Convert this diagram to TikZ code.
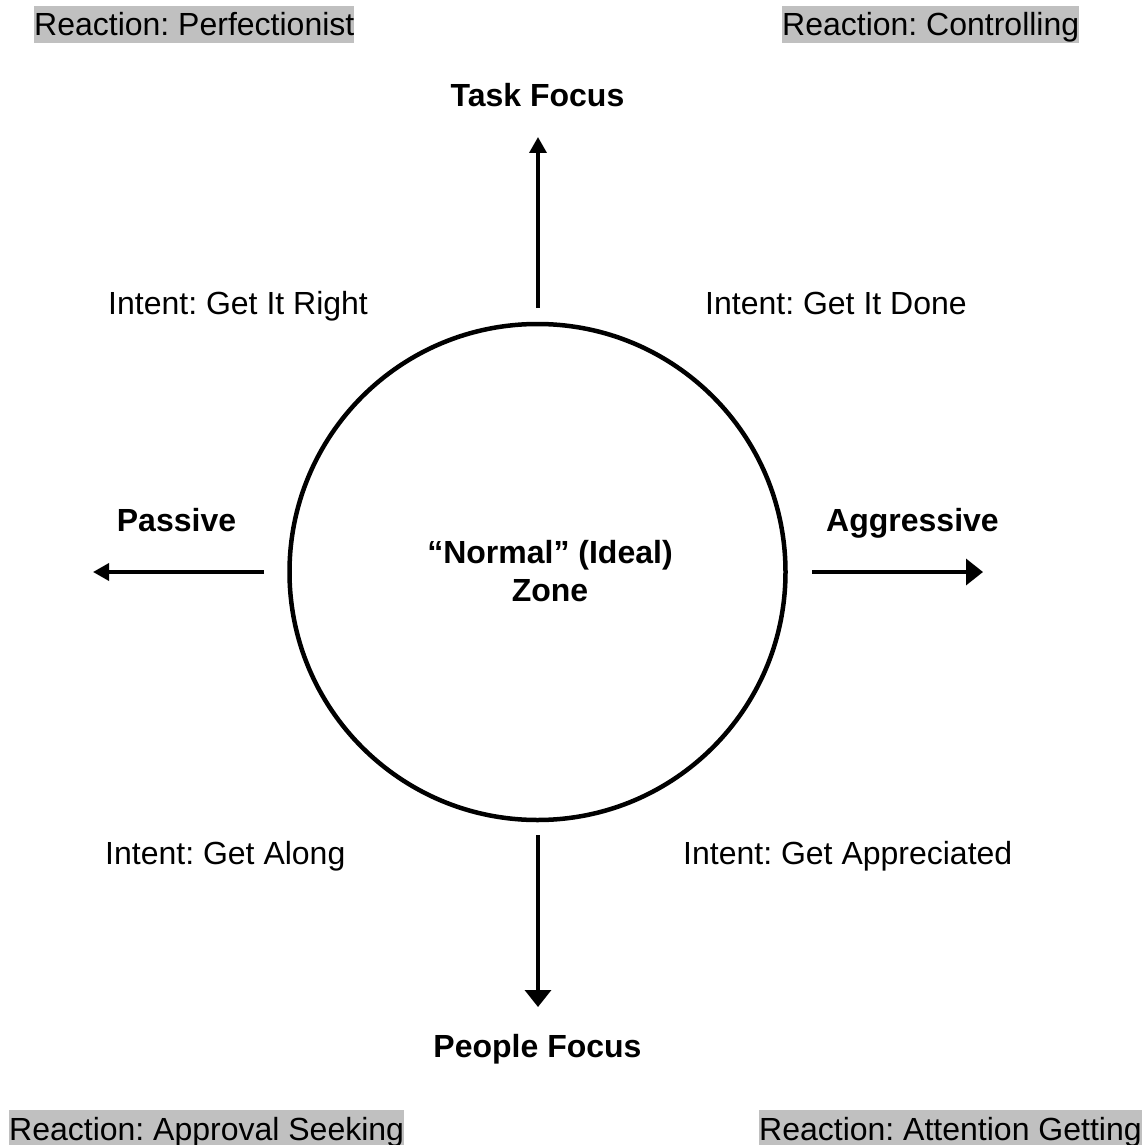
\documentclass[tikz,border=0pt]{standalone}
\usepackage{fontspec}
\setmainfont{Liberation Sans}
\usetikzlibrary{arrows.meta}
\definecolor{silverbg}{HTML}{C0C0C0}
\frenchspacing
\begin{document}
\begin{tikzpicture}[x=1pt,y=-1pt,
  lbl/.style={inner sep=0pt,font=\fontsize{32}{38}\selectfont},
  bold/.style={lbl,font=\fontsize{32}{38}\selectfont\bfseries},
  reaction/.style={lbl,fill=silverbg,text height=30pt,text depth=7pt,inner xsep=0pt,inner ysep=0pt},
  arrA/.style={line width=3.5pt,-{Triangle[length=16pt,width=17pt]}},
  arrB/.style={line width=3.5pt,-{Triangle[length=17pt,width=26pt]}}
]
\useasboundingbox (0,0) rectangle (1146,1145);
% reactions
\node[reaction,anchor=base west] (rperf) at (34,36) {Reaction: Perfectionist};
\node[reaction,anchor=base west] (rctrl) at (782,36) {Reaction: Controlling};
\node[reaction,anchor=base west] (rappr) at (9,1140) {Reaction: Approval Seeking};
\node[reaction,anchor=base west] (ratt) at (759,1140) {Reaction: Attention Getting};
% axis labels
\node[bold,anchor=base] (task) at (537.5,107) {Task Focus};
\node[bold,anchor=base] (people) at (537.5,1057) {People Focus};
\node[bold,anchor=base] (passive) at (176.5,531) {Passive};
\node[bold,anchor=base] (aggr) at (912.5,531) {Aggressive};
% intents
\node[lbl,anchor=base west] (iright) at (108,314) {Intent: Get It Right};
\node[lbl,anchor=base west] (idone) at (705,314) {Intent: Get It Done};
\node[lbl,anchor=base west] (ialong) at (105,864) {Intent: Get Along};
\node[lbl,anchor=base west] (iappr) at (683,864) {Intent: Get Appreciated};
% circle
\node[draw,circle,line width=4.5pt,minimum size=496pt,inner sep=0pt] (zone) at (537.5,572) {};
\node[bold,anchor=base] (zone1) at (550,563) {“Normal” (Ideal)};
\node[bold,anchor=base] (zone2) at (550,601) {Zone};
% arrow endpoints
\coordinate (upS) at (538,308);
\coordinate (upE) at (538,137);
\coordinate (dnS) at (538,835);
\coordinate (dnE) at (538,1007);
\coordinate (lfS) at (264,572);
\coordinate (lfE) at (93,572);
\coordinate (rtS) at (812,572);
\coordinate (rtE) at (983,572);
\draw[arrA] (upS) -- (upE);
\draw[arrA] (lfS) -- (lfE);
\draw[arrB] (rtS) -- (rtE);
\draw[arrB] (dnS) -- (dnE);
\end{tikzpicture}
\end{document}
